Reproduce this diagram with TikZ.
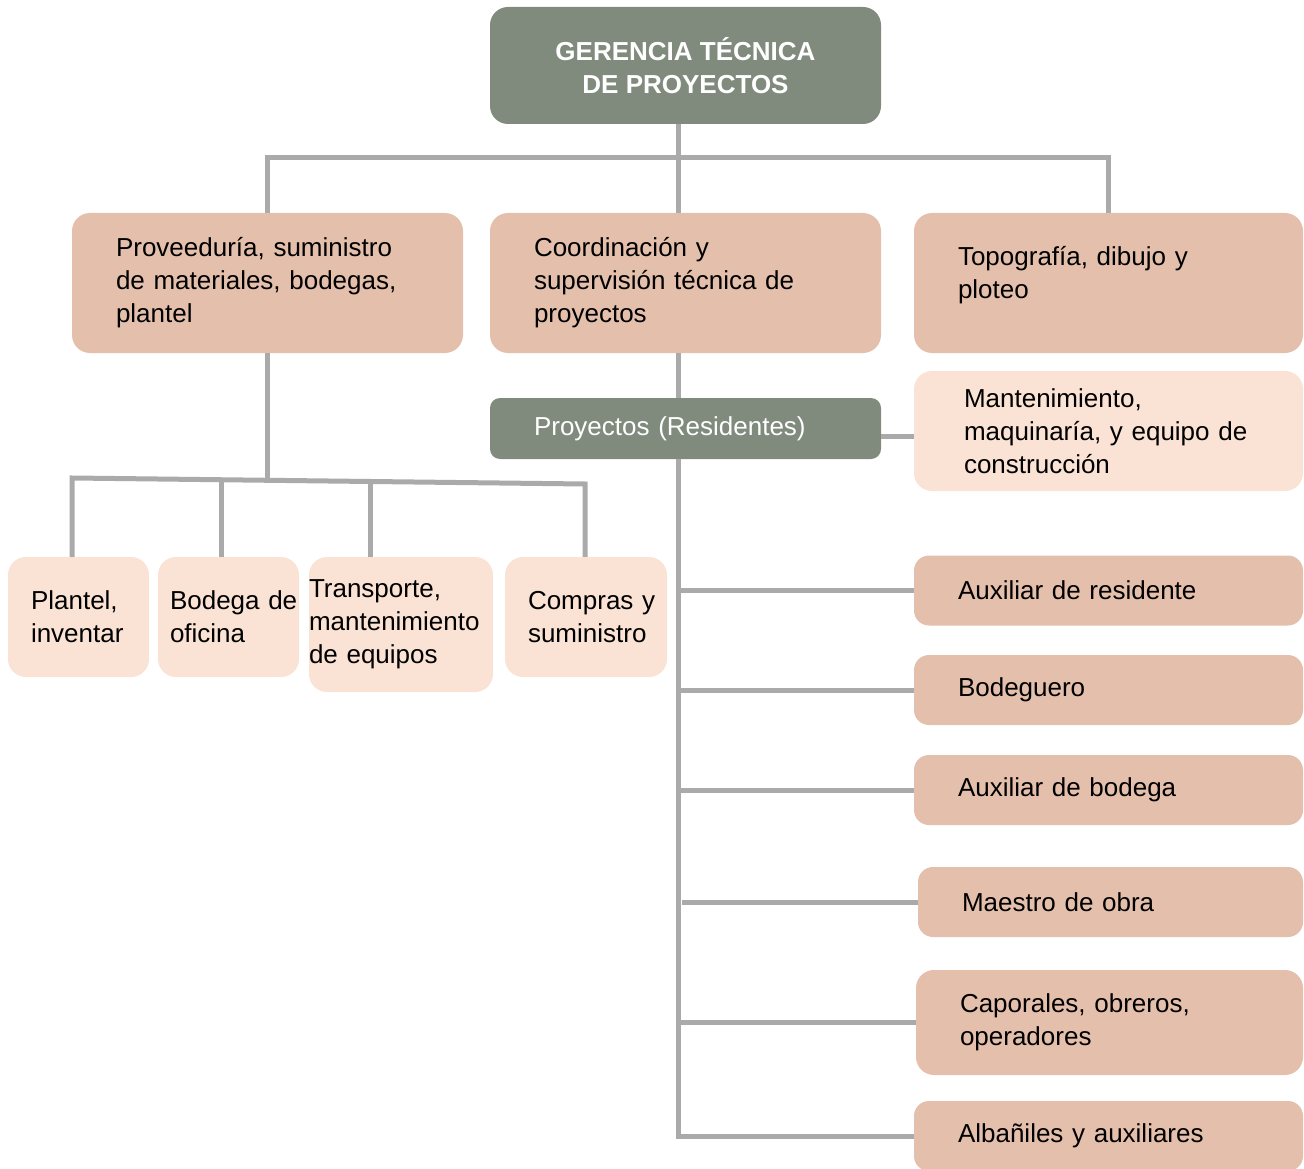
\documentclass[tikz,border=0pt]{standalone}
\usepackage{fontspec}
\setmainfont{Liberation Sans}
\usetikzlibrary{positioning}
\definecolor{verde}{HTML}{808B7D}
\definecolor{salmon}{HTML}{E4C0AC}
\definecolor{durazno}{HTML}{FAE3D5}
\definecolor{gris}{HTML}{ABAAAB}

\begin{document}
\begin{tikzpicture}[x=1pt, y=-1pt,
        caja/.style={rectangle, rounded corners=18pt, align=left, inner sep=0pt, font=\fontsize{26}{33}\selectfont},
        jefe/.style={caja, fill=verde, text=white},
        area/.style={caja, fill=salmon},
        apoyo/.style={caja, fill=durazno},
        puesto/.style={area, rounded corners=15pt, minimum height=70, text width=301},
        rama/.style={draw=gris, line width=5pt}]
        \useasboundingbox (0, 0) rectangle (1304, 1169);

        \node[jefe, align=center, font=\fontsize{26}{33}\selectfont\bfseries, minimum width=391, minimum height=117] at (685.5, 65.5)(ger){GERENCIA TÉCNICA\\DE PROYECTOS};
        \node[area, minimum width=391, minimum height=140, text width=303] at (267.5, 283)(prov){Proveeduría, suministro\\de materiales, bodegas,\\plantel};
        \node[area, minimum width=391, minimum height=140, text width=303] at (685.5, 283)(coord){Coordinación y\\supervisión técnica de\\proyectos};
        \node[area, minimum width=389, minimum height=140, text width=301, text depth=55pt] at (1108.5, 283)(topo){Topografía, dibujo y\\ploteo};
        \node[jefe, rounded corners=10pt, minimum width=391, minimum height=61, text width=303] at (685.5, 428.5)(proy){Proyectos (Residentes)};
        \node[apoyo, minimum width=389, minimum height=120, text width=289] at (1108.5, 431)(mant){Mantenimiento,\\maquinaría, y equipo de\\construcción};

        \node[apoyo, minimum width=141, minimum height=120, text width=95] at (78.5, 617)(plan){Plantel,\\inventar};
        \node[apoyo, minimum width=141, minimum height=120, text width=117] at (228.5, 617)(bodo){Bodega~de\\oficina};
        \node[apoyo, minimum width=184, minimum height=135, text width=184] at (401, 624.5)(trans){Transporte,\\mantenimiento\\de equipos};
        \node[apoyo, minimum width=162, minimum height=120, text width=116] at (586, 617)(comp){Compras~y\\suministro};

        \node[puesto, minimum width=389] at (1108.5, 590.5)(aux){Auxiliar de residente};
        \node[puesto, minimum width=389] at (1108.5, 690)(bod){Bodeguero};
        \node[puesto, minimum width=389] at (1108.5, 790)(auxb){Auxiliar de bodega};
        \node[puesto, minimum width=385, text width=297] at (1110.5, 902)(mae){Maestro de obra};
        \node[puesto, minimum width=387, minimum height=105, text width=299, rounded corners=18pt] at (1109.5, 1022.5)(cap){Caporales, obreros,\\operadores};
        \node[puesto, minimum width=389] at (1108.5, 1136)(alb){Albañiles y auxiliares};

        \coordinate (tronco) at (678, 158);
        \coordinate (b1) at (72, 478);
        \coordinate (b2) at (221, 480);
        \coordinate (b3) at (370, 482);
        \coordinate (b4) at (585, 484);

        \draw[rama] (ger.south -| tronco) -- (coord.north -| tronco);
        \draw[rama] (prov.north) |- (tronco) -| (topo.north);
        \draw[rama] (coord.south -| tronco) -- (proy.north -| tronco);
        \draw[rama] ([yshift=-8pt]proy.east) -- ([yshift=-8pt]proy.east -| mant.west);
        \draw[rama] (proy.south -| tronco) |- (alb.west);
        \foreach \n in {aux, bod, auxb, cap}
            \draw[rama] (\n.west -| tronco) -- (\n.west);
        \draw[rama] ([xshift=4pt]mae.west -| tronco) -- (mae.west);

        \draw[rama] (prov.south) -- ([yshift=-1pt]prov.south |- b2);
        \draw[rama] (b1 |- plan.north) -- (b1) -- (b4) -- (b4 |- comp.north);
        \draw[rama] (b2) -- (b2 |- bodo.north);
        \draw[rama] (b3) -- (b3 |- trans.north);
    \end{tikzpicture}
\end{document}
